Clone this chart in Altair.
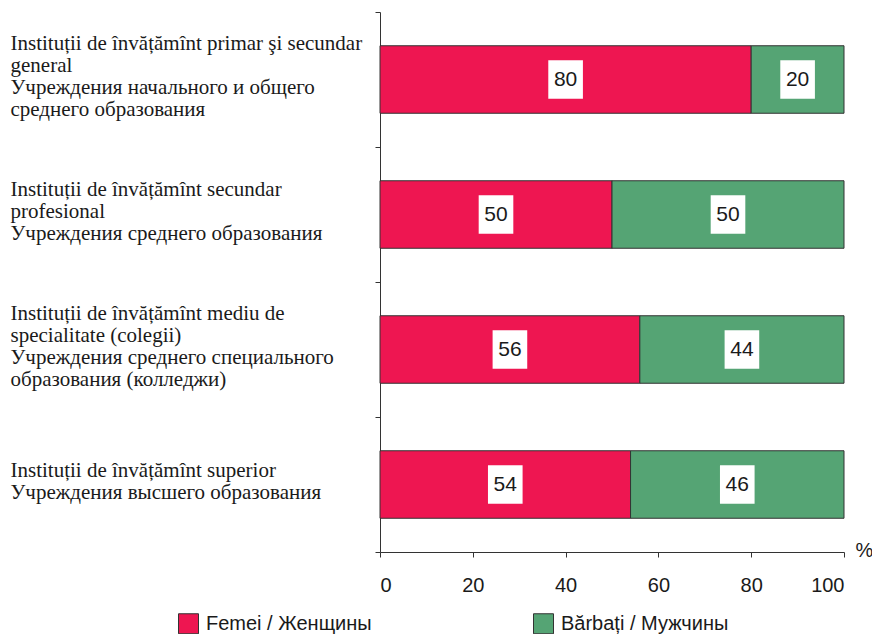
import altair as alt
import pandas as pd

categories = [
    "Instituții de învățămînt primar şi secundar|general|Учреждения начального и общего|среднего образования",
    "Instituții de învățămînt secundar|profesional|Учреждения среднего образования",
    "Instituții de învățămînt mediu de|specialitate (colegii)|Учреждения среднего специального|образования (колледжи)",
    "Instituții de învățămînt superior|Учреждения высшего образования",
]
femei = [80, 50, 56, 54]
barbati = [20, 50, 44, 46]
series = ["Femei / Женщины", "Bărbați / Мужчины"]
colors = ["#EE1651", "#55A474"]
x_ticks = [0, 20, 40, 60, 80, 100]

rows = []
for c, f, b in zip(categories, femei, barbati):
    rows.append({"cat": c, "series": series[0], "value": f, "order": 0})
    rows.append({"cat": c, "series": series[1], "value": b, "order": 1})
df = pd.DataFrame(rows)

base = alt.Chart(df).transform_stack(
    stack="value", groupby=["cat"], as_=["x0", "x1"], sort=[alt.SortField("order")]
).transform_calculate(mid="(datum.x0 + datum.x1) / 2")

LH = 22.3
SHIFT = -3
label_offset = {
    "condition": [
        {"test": "length(split(datum.value, '|')) == 4", "value": -1.5 * LH + SHIFT},
        {"test": "length(split(datum.value, '|')) == 3", "value": -1.0 * LH + SHIFT},
    ],
    "value": -0.5 * LH + SHIFT,
}

xscale = alt.Scale(domain=[0, 100], nice=False)
y = alt.Y(
    "cat:N",
    sort=categories,
    scale=alt.Scale(paddingInner=0, paddingOuter=0),
    axis=alt.Axis(
        title=None,
        grid=False,
        domainColor="#333333",
        tickColor="#333333",
        tickSize=5,
        tickBand="extent",
        labelPadding=365,
        labelAlign="left",
        labelBaseline="middle",
        labelOffset=label_offset,
        labelFont="Liberation Serif",
        labelFontSize=21,
        labelLineHeight=LH,
        labelColor="#1a1a1a",
        labelLimit=500,
        labelExpr="split(datum.label, '|')",
    ),
)

bars = base.mark_bar(
    height=alt.RelativeBandSize(0.5), stroke="#333333", strokeWidth=1
).encode(
    x=alt.X(
        "x0:Q",
        scale=xscale,
        axis=alt.Axis(
            values=x_ticks,
            grid=False,
            domainColor="#333333",
            tickColor="#333333",
            tickSize=5,
            labelFont="Liberation Sans",
            labelFontSize=20,
            labelColor="#1a1a1a",
            labelPadding=18,
            title="%",
            titleFont="Liberation Sans",
            titleFontSize=20,
            titleFontWeight="normal",
            titleColor="#1a1a1a",
            titleX=475,
            titleY=-2,
            titleAlign="left",
            titleBaseline="middle",
        ),
    ),
    x2="x1:Q",
    y=y,
    color=alt.Color(
        "series:N",
        sort=series,
        scale=alt.Scale(domain=series, range=colors),
        legend=alt.Legend(
            title=None,
            orient="none",
            legendX=-202,
            legendY=601,
            direction="horizontal",
            symbolType="square",
            symbolSize=400,
            symbolStrokeColor="#333333",
            symbolStrokeWidth=1,
            labelFont="Liberation Sans",
            labelFontSize=20,
            labelColor="#1a1a1a",
            labelOffset=7,
            labelLimit=400,
            columnPadding=159,
            padding=0,
        ),
    ),
)

boxes = base.mark_point(
    shape="M-0.9,-1H0.9V1H-0.9Z", size=1480, filled=True, fill="white", opacity=1, strokeWidth=0
).encode(x=alt.X("mid:Q", scale=xscale), y=alt.Y("cat:N", sort=categories))

texts = base.mark_text(
    font="Liberation Sans", fontSize=21, color="#1a1a1a"
).encode(
    x=alt.X("mid:Q", scale=xscale),
    y=alt.Y("cat:N", sort=categories),
    text="value:Q",
)

chart = alt.layer(bars, boxes, texts).properties(
    width=464,
    height=540,
    autosize=alt.AutoSizeParams(type="none"),
    padding={"left": 372, "top": 4, "right": 28, "bottom": 82},
).configure_view(stroke=None)

chart.save("out.html", embed_options={"renderer": "svg", "actions": False})
